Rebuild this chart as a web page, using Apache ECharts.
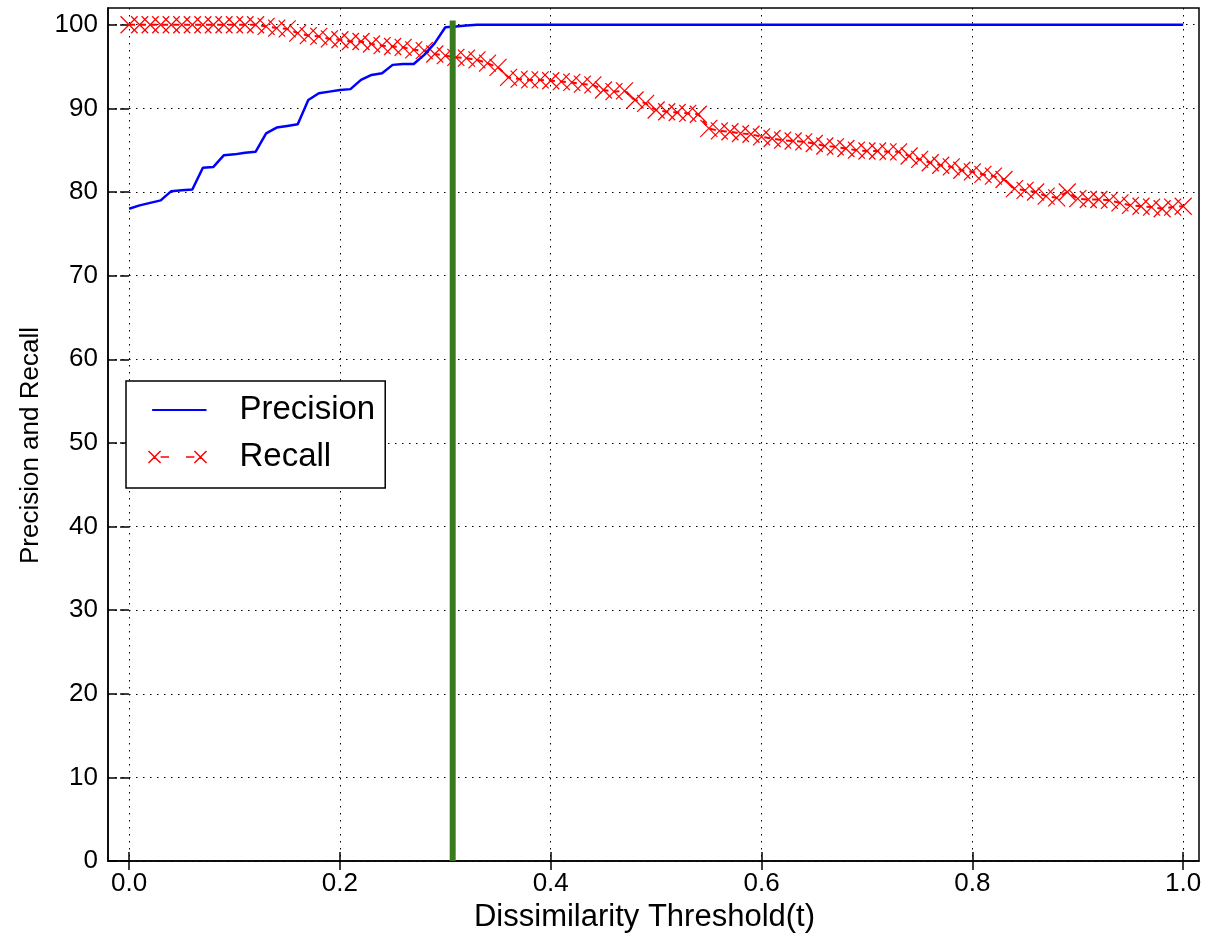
<!DOCTYPE html>
<html>
<head>
<meta charset="utf-8">
<script src="https://cdn.jsdelivr.net/npm/echarts@6/dist/echarts.min.js"></script>
<style>
  html, body { margin: 0; padding: 0; background: #fff; }
  #chart { width: 1209px; height: 938px; }
</style>
</head>
<body>
<div id="chart"></div>
<script>
var thresholds = [
  0.00, 0.01, 0.02, 0.03, 0.04, 0.05, 0.06, 0.07, 0.08, 0.09,
  0.10, 0.11, 0.12, 0.13, 0.14, 0.15, 0.16, 0.17, 0.18, 0.19,
  0.20, 0.21, 0.22, 0.23, 0.24, 0.25, 0.26, 0.27, 0.28, 0.29,
  0.30, 0.31, 0.32, 0.33, 0.34, 0.35, 0.36, 0.37, 0.38, 0.39,
  0.40, 0.41, 0.42, 0.43, 0.44, 0.45, 0.46, 0.47, 0.48, 0.49,
  0.50, 0.51, 0.52, 0.53, 0.54, 0.55, 0.56, 0.57, 0.58, 0.59,
  0.60, 0.61, 0.62, 0.63, 0.64, 0.65, 0.66, 0.67, 0.68, 0.69,
  0.70, 0.71, 0.72, 0.73, 0.74, 0.75, 0.76, 0.77, 0.78, 0.79,
  0.80, 0.81, 0.82, 0.83, 0.84, 0.85, 0.86, 0.87, 0.88, 0.89,
  0.90, 0.91, 0.92, 0.93, 0.94, 0.95, 0.96, 0.97, 0.98, 0.99,
  1.00
];

var precision = [
  78.0, 78.4, 78.7, 79.0, 80.1, 80.2, 80.3, 82.9, 83.0, 84.4,
  84.5, 84.7, 84.8, 87.0, 87.7, 87.9, 88.1, 91.0, 91.8, 92.0,
  92.2, 92.3, 93.4, 94.0, 94.2, 95.2, 95.3, 95.3, 96.4, 97.8,
  99.7, 99.8, 99.9, 100, 100, 100, 100, 100, 100, 100,
  100, 100, 100, 100, 100, 100, 100, 100, 100, 100,
  100, 100, 100, 100, 100, 100, 100, 100, 100, 100,
  100, 100, 100, 100, 100, 100, 100, 100, 100, 100,
  100, 100, 100, 100, 100, 100, 100, 100, 100, 100,
  100, 100, 100, 100, 100, 100, 100, 100, 100, 100,
  100, 100, 100, 100, 100, 100, 100, 100, 100, 100,
  100
];

var recall = [
  100, 100, 100, 100, 100, 100, 100, 100, 100, 100,
  100, 100, 100, 99.8, 99.6, 99.5, 99.0, 98.7, 98.6, 98.3,
  98.2, 98.0, 98.0, 97.7, 97.5, 97.4, 97.3, 97.0, 96.9, 96.5,
  96.3, 96.1, 96.0, 95.8, 95.4, 94.9, 93.7, 93.5, 93.4, 93.4,
  93.3, 93.2, 93.1, 92.9, 92.8, 92.2, 92.0, 92.1, 91.0, 90.6,
  89.8, 89.6, 89.5, 89.4, 89.3, 87.6, 87.3, 87.2, 87.0, 86.9,
  86.6, 86.4, 86.2, 86.1, 86.0, 85.8, 85.5, 85.4, 85.2, 85.0,
  84.9, 84.9, 84.8, 84.8, 84.3, 83.9, 83.5, 83.2, 83.0, 82.6,
  82.4, 82.1, 81.9, 81.5, 80.4, 80.2, 80.0, 79.5, 79.3, 80.0,
  79.2, 79.1, 79.1, 79.0, 78.7, 78.4, 78.3, 78.2, 78.0, 78.2,
  78.3
];

// chosen threshold (green vertical line)
var cutX = [0.307, 0.307];
var cutY = [0, 100.5];

var xTicks = [0, 0.2, 0.4, 0.6, 0.8, 1.0];
var yTicks = [0, 10, 20, 30, 40, 50, 60, 70, 80, 90, 100];

function pairs(xs, ys) {
  return xs.map(function (x, i) { return [x, ys[i]]; });
}

var fontFam = '"Liberation Sans", Arial, sans-serif';
var crossPath = 'path://M0,0L10,10M0,10L10,0';

var chart = echarts.init(document.getElementById('chart'));

var gridLine = { show: true, lineStyle: { color: '#000', width: 1, type: [1.5, 5.5] } };
var tickIn = { show: true, inside: true, length: 9, lineStyle: { color: '#000', width: 1.5 } };

var option = {
  animation: false,
  backgroundColor: '#fff',
  grid: {
    left: 108, right: 10, top: 8, bottom: 76,
    show: true, borderColor: '#000', borderWidth: 1.5, backgroundColor: 'transparent'
  },
  legend: {
    orient: 'vertical',
    left: 126, top: 381,
    backgroundColor: '#fff',
    borderColor: '#000', borderWidth: 1.5, borderRadius: 0,
    padding: [11, 10, 13, 20],
    itemWidth: 58, itemHeight: 15, itemGap: 11,
    textStyle: { fontFamily: fontFam, fontSize: 33, color: '#000', lineHeight: 36, padding: [0, 0, 0, 28] },
    data: [
      {
        name: 'Precision',
        icon: 'path://M0,0L0,0M3,4.2L48,4.2L48,5.8L3,5.8ZM0,10L0,10',
        itemStyle: { color: '#0000ff', borderWidth: 0 }
      },
      {
        name: 'Recall',
        icon: 'path://M0,0L10,10M0,10L10,0M10,5L17,5M31,5L38,5M38,0L48,10M38,10L48,0',
        itemStyle: { color: 'none', borderColor: '#ff0000', borderWidth: 1.5 }
      }
    ]
  },
  xAxis: [
    {
      type: 'value', min: -0.02, max: 1.015,
      name: 'Dissimilarity Threshold(t)', nameLocation: 'middle', nameGap: 37,
      nameTextStyle: { fontFamily: fontFam, fontSize: 31, color: '#000', padding: [0, 18, 0, 0] },
      axisLine: { show: true, onZero: false, lineStyle: { color: '#000', width: 1.5 } },
      axisTick: Object.assign({ customValues: xTicks }, tickIn),
      axisLabel: {
        customValues: xTicks, margin: 10,
        fontFamily: fontFam, fontSize: 26, color: '#000',
        formatter: function (v) { return v.toFixed(1); }
      },
      splitLine: Object.assign({ customValues: xTicks }, gridLine)
    },
    {
      type: 'value', min: -0.02, max: 1.015, position: 'top',
      axisLine: { show: false },
      axisTick: Object.assign({ customValues: xTicks }, tickIn),
      axisLabel: { show: false, customValues: xTicks },
      splitLine: { show: false }
    }
  ],
  yAxis: [
    {
      type: 'value', min: 0, max: 102,
      name: 'Precision and Recall', nameLocation: 'middle', nameGap: 64,
      nameTextStyle: { fontFamily: fontFam, fontSize: 26, color: '#000', padding: [0, 22, 0, 0] },
      axisLine: { show: true, onZero: false, lineStyle: { color: '#000', width: 1.5 } },
      axisTick: Object.assign({ customValues: yTicks }, tickIn),
      axisLabel: {
        customValues: yTicks, margin: 10,
        fontFamily: fontFam, fontSize: 26, color: '#000'
      },
      splitLine: Object.assign({ customValues: yTicks }, gridLine)
    },
    {
      type: 'value', min: 0, max: 102, position: 'right',
      axisLine: { show: false },
      axisTick: Object.assign({ customValues: yTicks }, tickIn),
      axisLabel: { show: false, customValues: yTicks },
      splitLine: { show: false }
    }
  ],
  series: [
    {
      name: 'Precision',
      type: 'line',
      data: pairs(thresholds, precision),
      showSymbol: false, symbol: 'none',
      color: '#0000ff',
      lineStyle: { color: '#0000ff', width: 2.5 },
      z: 3
    },
    {
      name: 'Recall',
      type: 'line',
      data: pairs(thresholds, recall),
      symbol: crossPath, symbolSize: 17,
      color: '#ff0000',
      itemStyle: { color: 'none', borderColor: '#ff0000', borderWidth: 1.2 },
      lineStyle: { color: '#ff0000', width: 2, type: [6, 5] },
      z: 2
    },
    {
      name: 'cut',
      type: 'line',
      xAxisIndex: 1, yAxisIndex: 1,
      data: pairs(cutX, cutY),
      symbol: 'none',
      lineStyle: { color: '#3a7a1f', width: 6 },
      z: 4
    }
  ]
};

chart.setOption(option);
window.addEventListener('resize', function () {
  chart.resize();
});
</script>
</body>
</html>
